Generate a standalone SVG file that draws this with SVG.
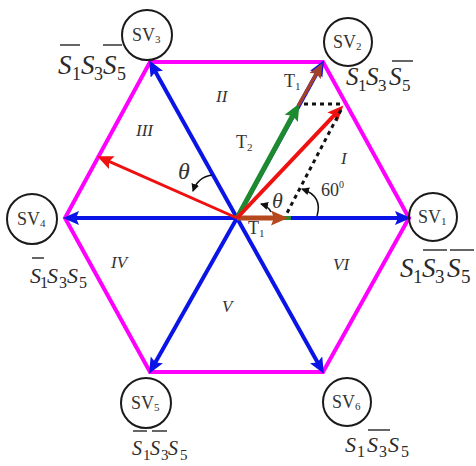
<svg xmlns="http://www.w3.org/2000/svg" width="476" height="466" viewBox="0 0 476 466">
<style>
.hex{fill:none;stroke:#ff00ff;stroke-width:4;stroke-linejoin:miter}
.blue{stroke:#0a14e6;stroke-width:4;fill:none}
.node circle{fill:none;stroke:#1a1a1a;stroke-width:2}
.nt{font-family:"Liberation Serif",serif;font-size:18px;fill:#333}
.ns{font-family:"Liberation Serif",serif;font-size:11px;fill:#333}
.lab{font-family:"Liberation Serif",serif;fill:#2a2a2a}
.bar{stroke:#333;stroke-width:1.5}
.rom{font-family:"Liberation Serif",serif;font-style:italic;font-size:17px;fill:#333}
.th{font-family:"Liberation Serif",serif;font-style:italic;fill:#333}
.dot{stroke:#111;stroke-width:3;stroke-dasharray:4,4;fill:none}
.thin{stroke:#111;stroke-width:1.5;fill:none}
</style>
<defs>
<marker id="ab" markerUnits="userSpaceOnUse" markerWidth="18" markerHeight="15" refX="8" refY="7" orient="auto"><path d="M0,0 L16,7 L0,14 L3,7 Z" fill="#0a14e6"/></marker>
<marker id="ar" markerUnits="userSpaceOnUse" markerWidth="18" markerHeight="15" refX="8" refY="7" orient="auto"><path d="M0,0 L16,7 L0,14 L3,7 Z" fill="#f01010"/></marker>
<marker id="ag" markerUnits="userSpaceOnUse" markerWidth="18" markerHeight="16" refX="8" refY="7.5" orient="auto"><path d="M0,0 L17,7.5 L0,15 L3,7.5 Z" fill="#1e8a30"/></marker>
<marker id="abr" markerUnits="userSpaceOnUse" markerWidth="16" markerHeight="14" refX="8" refY="6.5" orient="auto"><path d="M0,0 L15,6.5 L0,13 L3,6.5 Z" fill="#a3402a"/></marker>
<marker id="abo" markerUnits="userSpaceOnUse" markerWidth="18" markerHeight="16" refX="8" refY="7.5" orient="auto"><path d="M0,0 L17,7.5 L0,15 L3,7.5 Z" fill="#b5481c"/></marker>
<marker id="ak" markerUnits="userSpaceOnUse" markerWidth="10" markerHeight="10" refX="7" refY="4" orient="auto"><path d="M0,0 L8,4 L0,8 Z" fill="#111"/></marker>
</defs>

<polygon class="hex" points="409,218 323,62 150,62 65,218 150,372 323,372"/>

<g id="connectors">
<line class="blue" x1="237" y1="218" x2="403" y2="218" marker-end="url(#ab)"/>
<line class="blue" x1="237" y1="218" x2="320.1" y2="67.2" marker-end="url(#ab)"/>
<line class="blue" x1="237" y1="218" x2="152.9" y2="67.3" marker-end="url(#ab)"/>
<line class="blue" x1="237" y1="218" x2="71" y2="218" marker-end="url(#ab)"/>
<line class="blue" x1="237" y1="218" x2="152.9" y2="366.8" marker-end="url(#ab)"/>
<line class="blue" x1="237" y1="218" x2="320" y2="366.8" marker-end="url(#ab)"/>
<line x1="283" y1="218" x2="291" y2="218" stroke="#2a8a30" stroke-width="4"/>
<line x1="237" y1="218" x2="279" y2="218" stroke="#b5481c" stroke-width="5" marker-end="url(#abo)"/>
<line x1="237" y1="218" x2="104.5" y2="159.4" stroke="#f01010" stroke-width="3" marker-end="url(#ar)"/>
<line x1="237" y1="218" x2="295.1" y2="111.3" stroke="#1e8a30" stroke-width="5" marker-end="url(#ag)"/>
<line x1="237" y1="218" x2="337.9" y2="111.4" stroke="#f01010" stroke-width="4" marker-end="url(#ar)"/>
<line x1="298" y1="106" x2="319" y2="69.2" stroke="#a3402a" stroke-width="3.5" marker-end="url(#abr)"/>
<line class="dot" x1="304" y1="104" x2="343" y2="104"/>
<line class="dot" x1="341" y1="110" x2="287" y2="213"/>
<path class="thin" d="M317,216 Q323,196 302,189" marker-end="url(#ak)"/>
<path class="thin" d="M271,212 Q268,206 261,204" marker-end="url(#ak)"/>
<path class="thin" d="M212,175 Q198,177 193,191" marker-end="url(#ak)"/>
</g>

<g id="SV1" class="node">
<circle cx="433" cy="217" r="24"/>
<text class="nt" x="418" y="223">SV<tspan class="ns" dy="2">1</tspan></text>
<text class="lab" y="277"><tspan font-style="italic" x="400" font-size="27">S</tspan><tspan x="413" dy="6" font-size="19">1</tspan><tspan font-style="italic" x="422" dy="-6" font-size="27">S</tspan><tspan x="435" dy="6" font-size="19">3</tspan><tspan font-style="italic" x="447" dy="-6" font-size="27">S</tspan><tspan x="461" dy="6" font-size="19">5</tspan></text>
<line class="bar" x1="423" y1="250" x2="447" y2="250"/>
<line class="bar" x1="450" y1="250" x2="474" y2="250"/>
</g>

<g id="SV2" class="node">
<circle cx="348" cy="42" r="24"/>
<text class="nt" x="333" y="48">SV<tspan class="ns" dy="2">2</tspan></text>
<text class="lab" y="85"><tspan font-style="italic" x="346" font-size="25">S</tspan><tspan x="358" dy="6" font-size="17">1</tspan><tspan font-style="italic" x="366" dy="-6" font-size="25">S</tspan><tspan x="378" dy="6" font-size="17">3</tspan><tspan font-style="italic" x="389" dy="-6" font-size="25">S</tspan><tspan x="402" dy="6" font-size="17">5</tspan></text>
<line class="bar" x1="392" y1="61" x2="413" y2="61"/>
</g>

<g id="SV3" class="node">
<circle cx="147" cy="35" r="25"/>
<text class="nt" x="132" y="41">SV<tspan class="ns" dy="2">3</tspan></text>
<text class="lab" y="74"><tspan font-style="italic" x="58" font-size="27">S</tspan><tspan x="72" dy="6" font-size="18">1</tspan><tspan font-style="italic" x="81" dy="-6" font-size="27">S</tspan><tspan x="94" dy="6" font-size="18">3</tspan><tspan font-style="italic" x="103" dy="-6" font-size="27">S</tspan><tspan x="117" dy="6" font-size="18">5</tspan></text>
<line class="bar" x1="60" y1="45" x2="80" y2="45"/>
<line class="bar" x1="103" y1="45" x2="122" y2="45"/>
</g>

<g id="SV4" class="node">
<circle cx="32" cy="219" r="25"/>
<text class="nt" x="17" y="225">SV<tspan class="ns" dy="2">4</tspan></text>
<text class="lab" y="283"><tspan font-style="italic" x="30" font-size="22">S</tspan><tspan x="40" dy="5" font-size="16">1</tspan><tspan font-style="italic" x="47" dy="-5" font-size="22">S</tspan><tspan x="59" dy="5" font-size="16">3</tspan><tspan font-style="italic" x="67" dy="-5" font-size="22">S</tspan><tspan x="79" dy="5" font-size="16">5</tspan></text>
<line class="bar" x1="32" y1="258" x2="44" y2="258"/>
</g>

<g id="SV5" class="node">
<circle cx="146" cy="403" r="25"/>
<text class="nt" x="131" y="409">SV<tspan class="ns" dy="2">5</tspan></text>
<text class="lab" y="455"><tspan font-style="italic" x="132" font-size="20">S</tspan><tspan x="143" dy="5" font-size="15">1</tspan><tspan font-style="italic" x="150" dy="-5" font-size="20">S</tspan><tspan x="161" dy="5" font-size="15">3</tspan><tspan font-style="italic" x="168" dy="-5" font-size="20">S</tspan><tspan x="180" dy="5" font-size="15">5</tspan></text>
<line class="bar" x1="133" y1="431" x2="147" y2="431"/>
<line class="bar" x1="152" y1="431" x2="167" y2="431"/>
</g>

<g id="SV6" class="node">
<circle cx="347" cy="402" r="24"/>
<text class="nt" x="332" y="408">SV<tspan class="ns" dy="2">6</tspan></text>
<text class="lab" y="452"><tspan font-style="italic" x="345" font-size="22">S</tspan><tspan x="357" dy="5" font-size="16">1</tspan><tspan font-style="italic" x="367" dy="-5" font-size="22">S</tspan><tspan x="379" dy="5" font-size="16">3</tspan><tspan font-style="italic" x="388" dy="-5" font-size="22">S</tspan><tspan x="401" dy="5" font-size="16">5</tspan></text>
<line class="bar" x1="368" y1="430" x2="390" y2="430"/>
</g>

<g id="labels">
<text class="rom" x="216" y="102">II</text>
<text class="rom" x="136" y="136">III</text>
<text class="rom" x="341" y="164">I</text>
<text class="rom" x="111" y="268">IV</text>
<text class="rom" x="333" y="270">VI</text>
<text class="rom" x="222" y="312">V</text>
<text class="th" x="178" y="179" style="font-size:24px">θ</text>
<text class="th" x="272" y="208" style="font-size:22px">θ</text>
<text class="nt" x="321" y="196">60<tspan font-size="10" dy="-8">0</tspan></text>
<text class="nt" x="284" y="87">T<tspan class="ns" dy="3">1</tspan></text>
<text class="nt" x="236" y="148">T<tspan class="ns" dy="3">2</tspan></text>
<text class="nt" x="248" y="234">T<tspan class="ns" dy="3">1</tspan></text>
</g>
</svg>
